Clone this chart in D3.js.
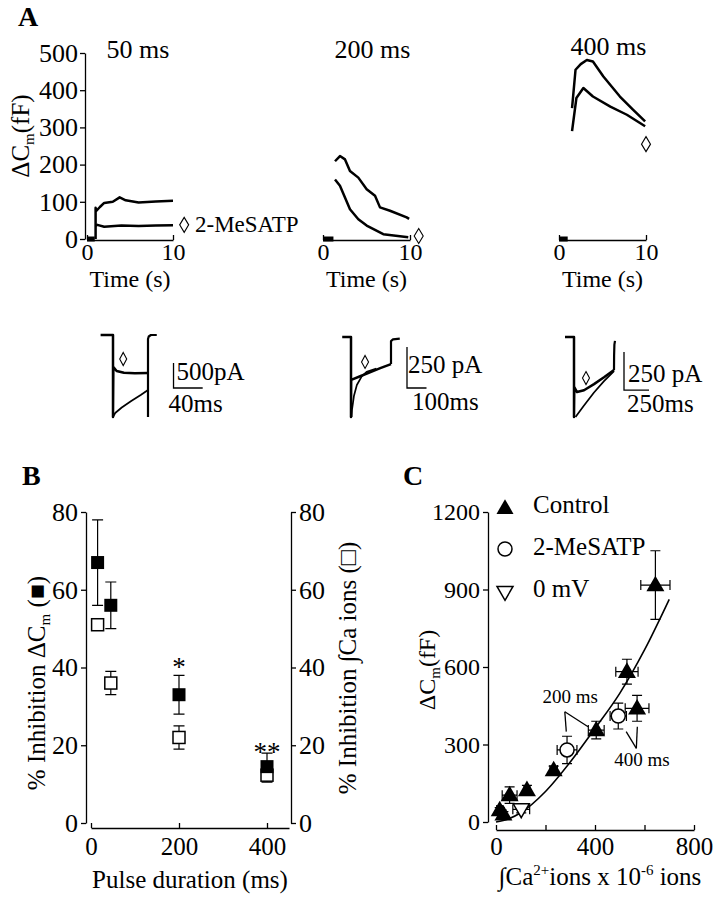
<!DOCTYPE html>
<html>
<head>
<meta charset="utf-8">
<script src="https://cdn.jsdelivr.net/npm/d3@7"></script>
<style>
body { margin: 0; background: #fff; }
svg { display: block; }
</style>
</head>
<body>
<svg id="fig" width="715" height="899"></svg>
<script>
// ---------- Panel A : capacitance traces (fF against s) ----------
var capTicks = [0, 100, 200, 300, 400, 500];
var timeTicks = [0, 10];
var pulseNames = ["50 ms", "200 ms", "400 ms"];

var base50 = [[0, 0], [0.9, 0]];
var up50 = [[1, 0], [1, 84], [1.1, 76], [1.5, 86], [2, 97], [3, 100], [3.8, 112], [4.5, 104], [6, 98], [8, 101], [10, 103]];
var low50 = [[1, 36], [1.2, 38], [2, 33], [4, 36], [6, 35], [8, 36], [10, 37]];

var base200 = [[0, 0], [1.2, 0]];
var up200 = [[1.38, 209], [1.95, 223], [2.53, 214], [3.1, 183], [4.06, 165], [5.02, 134], [5.98, 116], [6.55, 85], [7.7, 76], [9.62, 58], [9.9, 54]];
var low200 = [[1.38, 160], [1.95, 143], [3.1, 80], [4.06, 53], [5.02, 36], [6.93, 13], [9.8, 5]];

var base400 = [[0, 0], [1.0, 0]];
var up400 = [[1.5, 352], [1.9, 455], [2.5, 470], [3.2, 481], [3.9, 477], [5.1, 437], [7.0, 383], [8.5, 348], [9.9, 316]];
var low400 = [[1.5, 290], [2.0, 379], [2.8, 406], [3.9, 383], [5.9, 356], [7.8, 334], [9.9, 303]];

// where the 2-MeSATP diamond sits in each panel (s, fF)
var capMarks = [[11.3, 38], [11.0, 8], [10.0, 255]];

// ---------- Panel A : current traces (pA against ms) ----------
var i50Up = [[-17, 0], [0, 0], [0, -1640], [0.5, -640], [5, -720], [15, -755], [30, -765], [48, -760]];
var i50Low = [[0, -1640], [3, -1560], [12, -1450], [25, -1320], [38, -1200], [48, -1100]];
var i50Off = [[48, -1640], [48, -80], [49, -30], [52, 0], [60, 0]];

var i200Up = [[-45, 0], [0, 0], [0, -488], [1, -262], [50, -238], [100, -214], [150, -190], [205, -165]];
var i200Low = [[3, -488], [5, -445], [15, -360], [30, -293], [55, -240], [80, -213], [130, -192]];
var i200Off = [[205, -165], [205, -25], [215, -15], [250, -10]];

var i400Up = [[-90, 0], [0, 0], [0, -526], [3, -330], [30, -362], [100, -350], [200, -310], [300, -265], [400, -217]];
var i400Low = [[15, -526], [100, -450], [200, -365], [300, -290], [400, -225]];
var i400Off = [[400, -217], [401, -120], [404, -50], [410, -25]];

var curMarks = [[14, -480], [72, -152], [120, -270]];
// scale bar corner (ms, pA), bar length in pA and ms
var barCorner = [[83, -1060], [287, -311], [500, -349]];
var barPA = [500, 250, 250];
var barMS = [40, 100, 250];
var barLabels = [["500pA", "40ms"], ["250 pA", "100ms"], ["250 pA", "250ms"]];

// ---------- Panel B ----------
var bDur = [15, 45, 200, 400];
var bCm = [67, 56, 33, 14.5];
var bCmErr = [11, 6, 5, 3.5];
var bCa = [51, 36, 22, 12.3];
var bCaErr = [1.2, 3, 3, 1.8];
var bStars = [[200, "*"], [400, "**"]];
var bYTicks = [0, 20, 40, 60, 80];
var bXTicks = [0, 200, 400];

// ---------- Panel C ----------
var ctlX = [644, 529, 570, 405, 233, 125, 55, 15, 30];
var ctlY = [917, 582, 440, 356, 201, 124, 104, 46, 30];
var ctlXErr = [59, 45, 48, 32, 15, 12, 30, 12, 10];
var ctlYErr = [133, 48, 50, 34, 15, 18, 32, 10, 10];
var mesX = [287, 494];
var mesY = [279, 410];
var mesXErr = [40, 33];
var mesYErr = [53, 50];
var zeroX = [102];
var zeroY = [49];
var zeroXErr = [34];
var zeroYErr = [14];
var fitX = [0, 50, 100, 200, 300, 400, 500, 600, 700];
var fitY = [0, 12, 36, 118, 232, 362, 498, 666, 862];
var cYTicks = [0, 300, 600, 900, 1200];
var cXTicks = [0, 200, 400, 600, 800];

var FONT = "'Liberation Serif', 'Times New Roman', serif";
var svg = d3.select("#fig").style("font-family", FONT);

function styleAxis(g, fs) {
    g.attr("font-family", null).attr("font-size", fs);
    g.selectAll("path.domain, .tick line").attr("stroke", "#000").attr("stroke-width", 1.3);
    g.selectAll("text").attr("fill", "#000").style("font-family", FONT);
    return g;
}

function text(x, y, s, fs, anchor) {
    return svg.append("text").attr("x", x).attr("y", y)
        .style("font-family", FONT)
        .attr("font-size", fs).attr("text-anchor", anchor || "start").text(s);
}

function rtext(x, y, fs) {
    return svg.append("text").attr("transform", "translate(" + x + "," + y + ") rotate(-90)")
        .style("font-family", FONT)
        .attr("text-anchor", "middle").attr("font-size", fs);
}

function trace(x, y, pts, w) {
    svg.append("path")
        .attr("d", d3.line().x(function (d) { return x(d[0]); }).y(function (d) { return y(d[1]); })(pts))
        .attr("fill", "none").attr("stroke", "#000")
        .attr("stroke-width", w).attr("stroke-linejoin", "round");
}

function diamond(cx, cy, w, h) {
    svg.append("path")
        .attr("d", "M" + cx + "," + (cy - h / 2) + "L" + (cx + w / 2) + "," + cy + "L" + cx + "," + (cy + h / 2) + "L" + (cx - w / 2) + "," + cy + "Z")
        .attr("fill", "none").attr("stroke", "#000").attr("stroke-width", 1.1);
}

// ================= A =================
text(18, 26, "A", 28).attr("font-weight", "bold");

var yA = d3.scaleLinear().domain([0, 500]).range([239, 53]);
styleAxis(svg.append("g").attr("transform", "translate(85,0)")
    .call(d3.axisLeft(yA).tickValues(capTicks).tickSize(5).tickSizeOuter(0).tickPadding(2)), 26);

var yl = rtext(29, 136, 25);
yl.append("tspan").text("\u0394C");
yl.append("tspan").attr("font-size", 15).attr("dy", 5).text("m");
yl.append("tspan").attr("dy", -5).text("(fF)");

var xRanges = [[87, 173], [323, 410], [559, 646]];
var capBase = [base50, base200, base400];
var capUp = [up50, up200, up400];
var capLow = [low50, low200, low400];
var titleY = [58, 58, 55];

xRanges.forEach(function (r, i) {
    var x = d3.scaleLinear().domain([0, 10]).range(r);
    styleAxis(svg.append("g").attr("transform", "translate(0,240)")
        .call(d3.axisBottom(x).tickValues(timeTicks).tickSize(-5).tickSizeOuter(0).tickPadding(3)), 24);
    text((r[0] + r[1]) / 2, 287, "Time (s)", 24, "middle");
    text(i === 0 ? 138 : (r[0] + r[1]) / 2 + 6, titleY[i], pulseNames[i], 26, "middle");
    trace(x, yA, capBase[i], 5);
    trace(x, yA, capUp[i], 2.5);
    trace(x, yA, capLow[i], 2.5);
    diamond(x(capMarks[i][0]), yA(capMarks[i][1]), 9, 15);
});
text(195, 232, "2-MeSATP", 23, "start");

// current traces
var curX = [
    d3.scaleLinear().domain([0, 48]).range([113, 148]),
    d3.scaleLinear().domain([0, 205]).range([351, 391]),
    d3.scaleLinear().domain([0, 400]).range([574, 614])
];
var curY = [
    d3.scaleLinear().domain([0, -1640]).range([335, 417]),
    d3.scaleLinear().domain([0, -488]).range([337, 417]),
    d3.scaleLinear().domain([0, -526]).range([337, 417])
];
var curUp = [i50Up, i200Up, i400Up];
var curLow = [i50Low, i200Low, i400Low];
var curOff = [i50Off, i200Off, i400Off];
var barTxt = [[3, -8, -5, 24], [1, -15, 5, 22], [4, -8, 3, 22]];

curX.forEach(function (x, i) {
    var y = curY[i];
    trace(x, y, curUp[i], 2.5);
    trace(x, y, curLow[i], 1.7);
    trace(x, y, curOff[i], 2.2);
    diamond(x(curMarks[i][0]), y(curMarks[i][1]), 7, 13);
    var c = barCorner[i];
    var bx = x(c[0]), by = y(c[1]);
    svg.append("path")
        .attr("d", "M" + bx + "," + y(c[1] + barPA[i]) + "V" + by + "H" + x(c[0] + barMS[i]))
        .attr("fill", "none").attr("stroke", "#000").attr("stroke-width", 1.3);
    var o = barTxt[i];
    text(bx + o[0], by + o[1], barLabels[i][0], 25);
    text(bx + o[2], by + o[3], barLabels[i][1], 25);
});

// ================= B =================
text(22, 485, "B", 28).attr("font-weight", "bold");

var xB = d3.scaleLinear().domain([0, 450]).range([91, 289]);
var yB = d3.scaleLinear().domain([0, 80]).range([823, 512]);

styleAxis(svg.append("g").attr("transform", "translate(86,0)")
    .call(d3.axisLeft(yB).tickValues(bYTicks).tickSize(5).tickSizeOuter(0).tickPadding(3)), 26);
styleAxis(svg.append("g").attr("transform", "translate(291,0)")
    .call(d3.axisRight(yB).tickValues(bYTicks).tickSize(5).tickSizeOuter(0).tickPadding(3)), 26);
styleAxis(svg.append("g").attr("transform", "translate(0,828)")
    .call(d3.axisBottom(xB).tickValues(bXTicks).tickSize(-5).tickSizeOuter(0).tickPadding(9)), 25);

text(190, 888, "Pulse duration (ms)", 25, "middle");

var ylb = rtext(45, 683, 25);
ylb.append("tspan").text("% Inhibition \u0394C");
ylb.append("tspan").attr("font-size", 15).attr("dy", 5).text("m");
ylb.append("tspan").attr("dy", -5).text(" (\u25A0)");

rtext(356, 668, 25).text("% Inhibition \u222BCa ions (\u25A1)");

function vErr(x, y, xv, yv, e, cap) {
    svg.append("path")
        .attr("d", "M" + x(xv) + "," + y(yv - e) + "V" + y(yv + e) +
            "M" + (x(xv) - cap) + "," + y(yv + e) + "h" + 2 * cap +
            "M" + (x(xv) - cap) + "," + y(yv - e) + "h" + 2 * cap)
        .attr("fill", "none").attr("stroke", "#000").attr("stroke-width", 1.2);
}
function hErr(x, y, xv, yv, e, cap) {
    svg.append("path")
        .attr("d", "M" + x(xv - e) + "," + y(yv) + "H" + x(xv + e) +
            "M" + x(xv - e) + "," + (y(yv) - cap) + "v" + 2 * cap +
            "M" + x(xv + e) + "," + (y(yv) - cap) + "v" + 2 * cap)
        .attr("fill", "none").attr("stroke", "#000").attr("stroke-width", 1.2);
}

bDur.forEach(function (d, i) {
    vErr(xB, yB, d, bCa[i], bCaErr[i], 5.5);
    vErr(xB, yB, d, bCm[i], bCmErr[i], 5.5);
});
svg.append("g").selectAll("rect").data(bDur).enter().append("rect")
    .attr("x", function (d) { return xB(d) - 6; })
    .attr("y", function (d, i) { return yB(bCa[i]) - 6; })
    .attr("width", 12).attr("height", 12)
    .attr("fill", "#fff").attr("stroke", "#000").attr("stroke-width", 1.5);
svg.append("g").selectAll("rect").data(bDur).enter().append("rect")
    .attr("x", function (d) { return xB(d) - 6.5; })
    .attr("y", function (d, i) { return yB(bCm[i]) - 6.5; })
    .attr("width", 13).attr("height", 13).attr("fill", "#000");

bStars.forEach(function (s, i) {
    var k = bDur.indexOf(s[0]);
    var top = yB(bCm[k] + bCmErr[k]);
    text(xB(s[0]), top + (i === 0 ? 1 : 8), s[1], 27, "middle");
});

// ================= C =================
text(403, 485, "C", 28).attr("font-weight", "bold");

var xC = d3.scaleLinear().domain([0, 800]).range([496, 694]);
var yC = d3.scaleLinear().domain([0, 1200]).range([822, 512]);

styleAxis(svg.append("g").attr("transform", "translate(488,0)")
    .call(d3.axisLeft(yC).tickValues(cYTicks).tickSize(5).tickSizeOuter(0).tickPadding(3)
        .tickFormat(d3.format("d"))), 24);
styleAxis(svg.append("g").attr("transform", "translate(0,830)")
    .call(d3.axisBottom(xC).tickValues(cXTicks).tickSize(-5).tickSizeOuter(0).tickPadding(7)
        .tickFormat(function (d) { return d % 400 === 0 ? d : ""; })), 25);

var ylc = rtext(435, 670, 24);
ylc.append("tspan").text("\u0394C");
ylc.append("tspan").attr("font-size", 15).attr("dy", 5).text("m");
ylc.append("tspan").attr("dy", -5).text("(fF)");

var xlc = text(600, 885, "", 25, "middle");
xlc.append("tspan").text("\u222BCa");
xlc.append("tspan").attr("font-size", 15).attr("dy", -10).text("2+");
xlc.append("tspan").attr("dy", 10).text("ions x 10");
xlc.append("tspan").attr("font-size", 15).attr("dy", -10).text("-6");
xlc.append("tspan").attr("dy", 10).text(" ions");

svg.append("path")
    .attr("d", d3.line().curve(d3.curveMonotoneX)
        .x(function (d) { return xC(d); }).y(function (d, i) { return yC(fitY[i]); })(fitX))
    .attr("fill", "none").attr("stroke", "#000").attr("stroke-width", 1.6);

function errs(xs, ys, xe, ye) {
    xs.forEach(function (v, i) {
        hErr(xC, yC, v, ys[i], xe[i], 5);
        vErr(xC, yC, v, ys[i], ye[i], 5);
    });
}
errs(ctlX, ctlY, ctlXErr, ctlYErr);
errs(mesX, mesY, mesXErr, mesYErr);
errs(zeroX, zeroY, zeroXErr, zeroYErr);

function triPath(s, down) {
    var h = s * 0.866, k = down ? -1 : 1;
    return "M0," + (-k * h * 0.6) + "L" + (s / 2) + "," + (k * h * 0.4) + "L" + (-s / 2) + "," + (k * h * 0.4) + "Z";
}

svg.append("g").selectAll("path").data(ctlX).enter().append("path")
    .attr("transform", function (d, i) { return "translate(" + xC(d) + "," + yC(ctlY[i]) + ")"; })
    .attr("d", triPath(18, false)).attr("fill", "#000");
svg.append("g").selectAll("circle").data(mesX).enter().append("circle")
    .attr("cx", function (d) { return xC(d); })
    .attr("cy", function (d, i) { return yC(mesY[i]); })
    .attr("r", 7).attr("fill", "#fff").attr("stroke", "#000").attr("stroke-width", 1.5);
svg.append("g").selectAll("path").data(zeroX).enter().append("path")
    .attr("transform", function (d, i) { return "translate(" + xC(d) + "," + yC(zeroY[i]) + ")"; })
    .attr("d", triPath(16, true)).attr("fill", "#fff").attr("stroke", "#000").attr("stroke-width", 1.5);

// pointer labels
function pointer(label, lx, ly, vx, vy, ends) {
    text(xC(lx), yC(ly), label, 19, "middle");
    ends.forEach(function (e) {
        svg.append("line").attr("x1", xC(vx)).attr("y1", yC(vy))
            .attr("x2", xC(e[0])).attr("y2", yC(e[1]))
            .attr("stroke", "#000").attr("stroke-width", 1.3);
    });
}
pointer("200 ms", 300, 460, 278, 427, [[284, 350], [372, 369]]);
pointer("400 ms", 590, 215, 567, 285, [[571, 369], [526, 350]]);

// legend
var legY = [508, 549, 592];
var legNames = ["Control", "2-MeSATP", "0 mV"];
svg.append("path").attr("transform", "translate(505," + legY[0] + ")").attr("d", triPath(17, false)).attr("fill", "#000");
svg.append("circle").attr("cx", 505).attr("cy", legY[1]).attr("r", 7)
    .attr("fill", "#fff").attr("stroke", "#000").attr("stroke-width", 1.5);
svg.append("path").attr("transform", "translate(505," + legY[2] + ")").attr("d", triPath(16, true))
    .attr("fill", "#fff").attr("stroke", "#000").attr("stroke-width", 1.5);
legNames.forEach(function (n, i) {
    text(533, legY[i] + [5, 6, 5][i], n, 25);
});
</script>
</body>
</html>
